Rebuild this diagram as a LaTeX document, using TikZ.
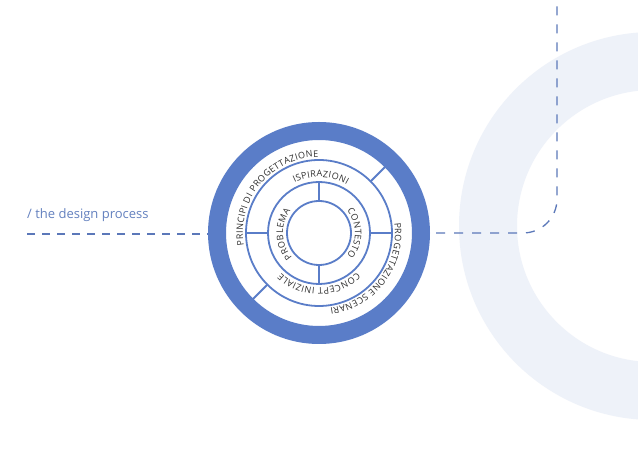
\documentclass[tikz,border=0pt]{standalone}
\usepackage{fontspec}
\setmainfont{Open Sans}
\usetikzlibrary{decorations.text}
\definecolor{ringblue}{HTML}{5A7DC8}
\definecolor{lineblue}{HTML}{5A7DC8}
\definecolor{dashblue}{HTML}{5B78B9}
\definecolor{paleblue}{HTML}{EEF2F9}
\definecolor{txtgray}{HTML}{2F2F2F}
\definecolor{titleblue}{HTML}{6481BF}
\tikzset{
  thinring/.style={draw=lineblue, line width=1.8pt},
  spoke/.style={draw=lineblue, line width=1.8pt},
  dashline/.style={draw=dashblue, line width=1.3pt, dash pattern=on 8pt off 7pt},
}
\newcommand\ringtext[3]{%
  \path[decorate, decoration={text effects along path, text={#3}, text align=center,
     text effects/.cd, text along path,
     characters={text=txtgray, font=\fontsize{9}{10}\selectfont},
     character widths={inner xsep=0.2pt, font=\fontsize{9}{10}\selectfont}}]
     (C) ++(#1+70:#2) arc[start angle=#1+70, end angle=#1-70, radius=#2];}
\begin{document}
\begin{tikzpicture}[x=1pt,y=1pt]
\useasboundingbox (0,0) rectangle (638,452);
\fill[white] (0,0) rectangle (638,452);
\begin{scope}
  \clip (0,0) rectangle (638,452);
  \fill[paleblue, even odd rule] (653,226) circle (194) (653,226) circle (136);
\end{scope}
\coordinate (C) at (319,219);
\node[circle, draw=ringblue, line width=18pt, minimum size=204pt, inner sep=0pt] (wheel) at (C) {};
\draw[thinring] (C) circle (73);
\draw[thinring] (C) circle (51);
\draw[thinring] (C) circle (32);
\draw[spoke] ([shift={(90:32)}]C) -- ([shift={(90:51)}]C);
\draw[spoke] ([shift={(270:32)}]C) -- ([shift={(270:51)}]C);
\draw[spoke] ([shift={(0:51)}]C) -- ([shift={(0:73)}]C);
\draw[spoke] ([shift={(180:51)}]C) -- ([shift={(180:73)}]C);
\draw[spoke] ([shift={(45:73)}]C) -- ([shift={(45:94)}]C);
\draw[spoke] ([shift={(225:73)}]C) -- ([shift={(225:94)}]C);
\ringtext{140}{76}{PRINCIPI DI PROGETTAZIONE}
\ringtext{-37}{76}{PROGETTAZIONE SCENARI}
\ringtext{88}{56}{ISPIRAZIONI}
\ringtext{-90}{55}{CONCEPT INIZIALE}
\ringtext{0}{36}{CONTESTO}
\ringtext{182}{36}{PROBLEMA}
\node[anchor=base west, font=\fontsize{13}{15}\selectfont, text=titleblue, inner sep=0pt] (title) at (27,233) {/ the design process};
\coordinate (lstart) at (27,218);
\coordinate (top) at (557,460);
\draw[dashline] (lstart) -- (lstart -| wheel.west);
\draw[dashline, dash pattern=on 9pt off 9pt, rounded corners=34pt] ([xshift=6pt]wheel.east) -- (wheel.east -| top) -- (top);
\end{tikzpicture}
\end{document}
